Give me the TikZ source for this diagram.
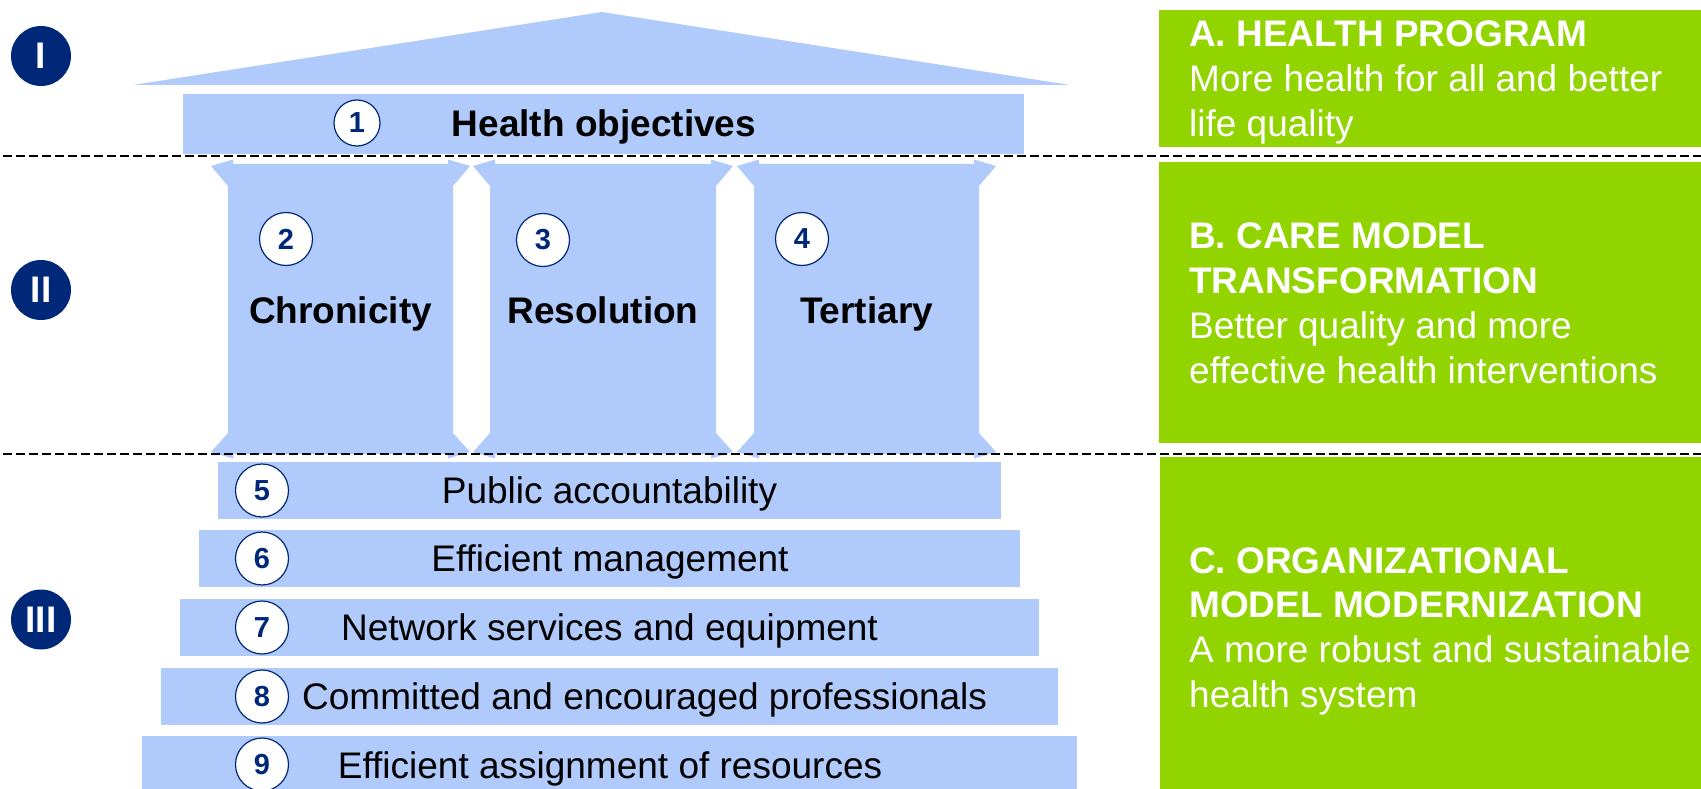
\documentclass[tikz,border=0pt]{standalone}
\usepackage{fontspec}
\setmainfont{Liberation Sans}
\definecolor{lblue}{RGB}{176,202,251}
\definecolor{navy}{RGB}{0,40,120}
\definecolor{lgreen}{RGB}{146,212,0}
\tikzset{
  roman/.style={circle, fill=navy, minimum size=60, inner sep=0, text=white, font=\fontsize{37}{40}\selectfont\bfseries},
  num/.style={circle, draw=navy, fill=white, line width=1.2pt, minimum size=53, inner sep=0, text=navy, font=\fontsize{29}{30}\selectfont\bfseries},
  boldlab/.style={font=\fontsize{37}{40}\selectfont\bfseries, inner sep=0, anchor=base},
  barlab/.style={font=\fontsize{37}{40}\selectfont, inner sep=0, anchor=base},
  panelbold/.style={font=\fontsize{37}{40}\selectfont\bfseries, text=white, inner sep=0, anchor=base west},
  paneltxt/.style={font=\fontsize{37}{40}\selectfont, text=white, inner sep=0, anchor=base west},
  sepline/.style={dash pattern=on 9pt off 4pt, line width=2pt, black},
  blueshape/.style={fill=lblue},
  greenbox/.style={fill=lgreen},
}
\begin{document}
\begin{tikzpicture}[x=1pt, y=-1pt]
\useasboundingbox (0,0) rectangle (1701,789);
% roof and architrave
\fill[blueshape] (133,85) -- (602,12) -- (1070,85) -- cycle;
\fill[blueshape] (183,94) rectangle (1024,154);
% columns
\foreach \L/\R in {228/453, 490/716, 754/979} {
  \fill[blueshape] (\L-17,166) -- (\L+5,159.5) -- (\L+5,164) -- (\R-5,164) -- (\R-5,159.5) -- (\R+17,166)
    -- (\R,186) -- (\R,433) -- (\R+17,452) -- (\R-5,458.5) -- (\R-5,454) -- (\L+5,454) -- (\L+5,458.5)
    -- (\L-17,452) -- (\L,433) -- (\L,186) -- cycle;
}
% steps
\fill[blueshape] (218,462) rectangle (1001,519);
\fill[blueshape] (199,530) rectangle (1020,587);
\fill[blueshape] (180,599) rectangle (1039,656);
\fill[blueshape] (161,668) rectangle (1058,725);
\fill[blueshape] (142,736) rectangle (1077,789);
% green panels
\fill[greenbox] (1159,10) rectangle (1701,147);
\fill[greenbox] (1159,162) rectangle (1701,443);
\fill[greenbox] (1160,457) rectangle (1701,789);
% separators
\coordinate (d1a) at (3,156);
\coordinate (d1b) at (1701,156);
\coordinate (d2a) at (3,454);
\coordinate (d2b) at (1701,454);
\draw[sepline] (d1a) -- (d1b);
\draw[sepline] (d2a) -- (d2b);
% roman numerals
\node[roman] (r1) at (41,56) {I};
\node[roman] (r2) at (41,290) {II};
\node[roman] (r3) at (41,619.5) {III};
% level I
\node[num, minimum size=46] (n1) at (357,123) {1};
\node[boldlab] (hobj) at (604,137) {Health objectives};
% level II
\node[num] (n2) at (286,239) {2};
\node[num] (n3) at (543,240) {3};
\node[num] (n4) at (802,239) {4};
\node[boldlab] (chr) at (340.5,323) {Chronicity};
\node[boldlab] (res) at (603,323) {Resolution};
\node[boldlab] (ter) at (866.5,323) {Tertiary};
% level III
\node[num] (n5) at (262,490.5) {5};
\node[num] (n6) at (262,558.5) {6};
\node[num] (n7) at (262,627.5) {7};
\node[num] (n8) at (262,696.5) {8};
\node[num] (n9) at (262,764.5) {9};
\node[barlab] (t5) at (609.5,503.5) {Public accountability};
\node[barlab] (t6) at (610,571.5) {Efficient management};
\node[barlab] (t7) at (609.5,640.5) {Network services and equipment};
\node[barlab, anchor=base west] (t8) at (302,709.5) {Committed and encouraged professionals};
\node[barlab] (t9) at (610,778) {Efficient assignment of resources};
% panel texts
\node[panelbold] (pa1) at (1189,47) {A. HEALTH PROGRAM};
\node[paneltxt] (pa2) at (1189,92) {More health for all and better};
\node[paneltxt] (pa3) at (1189,137) {life quality};
\node[panelbold] (pb1) at (1189,248) {B. CARE MODEL};
\node[panelbold] (pb2) at (1189,293) {TRANSFORMATION};
\node[paneltxt] (pb3) at (1189,338) {Better quality and more};
\node[paneltxt] (pb4) at (1189,383) {effective health interventions};
\node[panelbold] (pc1) at (1189,573) {C. ORGANIZATIONAL};
\node[panelbold] (pc2) at (1189,617) {MODEL MODERNIZATION};
\node[paneltxt] (pc3) at (1189,662) {A more robust and sustainable};
\node[paneltxt] (pc4) at (1189,707) {health system};
\end{tikzpicture}
\end{document}
